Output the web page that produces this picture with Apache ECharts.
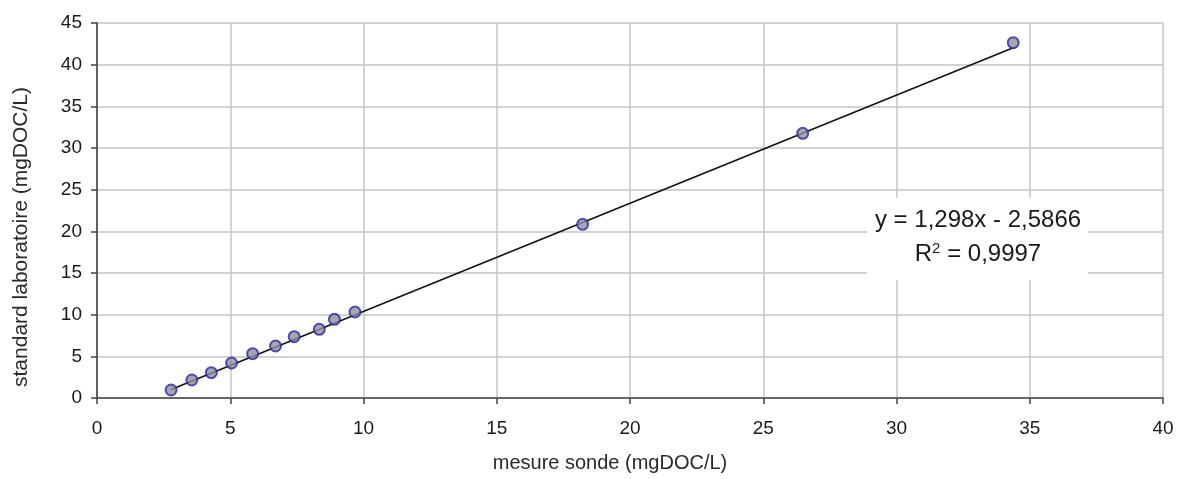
<!DOCTYPE html>
<html>
<head>
<meta charset="utf-8">
<script src="https://cdn.jsdelivr.net/npm/echarts@6/dist/echarts.min.js"></script>
<style>
html,body{margin:0;padding:0;background:#fff;}
#chart{width:1186px;height:479px;}
</style>
</head>
<body>
<div id="chart"></div>
<script>
// measured points (mesure sonde, standard laboratoire)
var sondeValues = [2.78, 3.56, 4.29, 5.05, 5.84, 6.70, 7.40, 8.34, 8.91, 9.68, 18.22, 26.48, 34.38];
var laboValues  = [0.96, 2.16, 3.04, 4.20, 5.32, 6.24, 7.36, 8.24, 9.44, 10.32, 20.84, 31.76, 42.64];
// linear trendline coefficients as shown in the chart
var slope = 1.298;
var intercept = -2.5866;
var equationText = 'y = 1,298x - 2,5866';
var r2Text = 'R{sup|2} = 0,9997';
var xTitle = 'mesure sonde (mgDOC/L)';
var yTitle = 'standard laboratoire (mgDOC/L)';

var points = sondeValues.map(function(x, i){ return [x, laboValues[i]]; });
var xMin = Math.min.apply(null, sondeValues), xMax = Math.max.apply(null, sondeValues);
var trend = [[xMin, slope * xMin + intercept], [xMax, slope * xMax + intercept]];

var font = 'Arial, "Liberation Sans", sans-serif';
var chart = echarts.init(document.getElementById('chart'));
chart.setOption({
  animation: false,
  backgroundColor: '#fff',
  grid: {left: 97, right: 23, top: 23, bottom: 81},
  xAxis: {
    type: 'value', min: 0, max: 40, interval: 5,
    axisLine: {show: true, onZero: false, lineStyle: {color: '#444', width: 1.6}},
    axisTick: {show: true, inside: false, length: 6, lineStyle: {color: '#444', width: 1.5}},
    axisLabel: {color: '#1a1a1a', fontSize: 19, fontFamily: font, margin: 21},
    splitLine: {show: true, lineStyle: {color: '#c4c4c4', width: 1.5}}
  },
  yAxis: {
    type: 'value', min: 0, max: 45, interval: 5,
    axisLine: {show: true, onZero: false, lineStyle: {color: '#444', width: 1.6}},
    axisTick: {show: true, inside: false, length: 6, lineStyle: {color: '#444', width: 1.5}},
    axisLabel: {color: '#1a1a1a', fontSize: 19, fontFamily: font, margin: 15},
    splitLine: {show: true, lineStyle: {color: '#c4c4c4', width: 1.5}}
  },
  graphic: [
    {type: 'text', z: 100, style: {text: xTitle, fontSize: 20, fontFamily: font, fill: '#2a2a2a', x: 610, y: 463, textAlign: 'center', textVerticalAlign: 'middle'}},
    {type: 'text', z: 100, x: 21, y: 237, rotation: Math.PI / 2, style: {text: yTitle, fontSize: 21, fontFamily: font, fill: '#2a2a2a', x: 0, y: 0, textAlign: 'center', textVerticalAlign: 'middle'}},
    {type: 'rect', z: 100, shape: {x: 867, y: 198, width: 221, height: 82}, style: {fill: '#fff'}},
    {type: 'text', z: 101, style: {text: equationText, x: 978, y: 220, fontSize: 24, fontFamily: font, fill: '#1a1a1a', textAlign: 'center', textVerticalAlign: 'middle'}},
    {type: 'text', z: 101, style: {text: r2Text, x: 978, y: 254, fontSize: 24, fontFamily: font, fill: '#1a1a1a', textAlign: 'center', textVerticalAlign: 'middle',
      rich: {sup: {fontSize: 15, fontFamily: font, fill: '#1a1a1a', verticalAlign: 'top', padding: [0,0,10,0]}}}}
  ],
  series: [
    {type: 'line', data: trend, symbol: 'none', lineStyle: {color: '#111', width: 1.6}, z: 2},
    {type: 'scatter', data: points, symbol: 'circle', symbolSize: 11,
     itemStyle: {color: '#9090a0', borderColor: '#2b2ba0', borderWidth: 2}, z: 3}
  ]
});
</script>
</body>
</html>
